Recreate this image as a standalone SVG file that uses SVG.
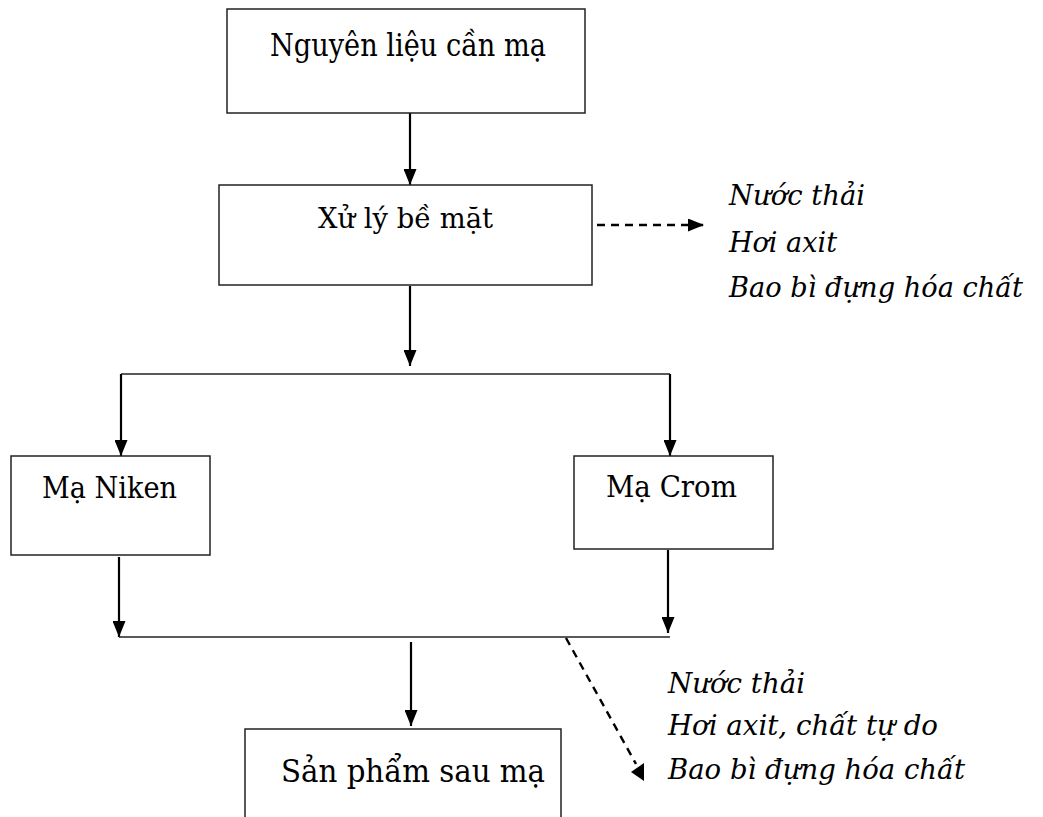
<svg xmlns="http://www.w3.org/2000/svg" width="1043" height="817" viewBox="0 0 1043 817">
<style>
.box{fill:#fff;stroke:#222;stroke-width:1.5}
.ln{stroke:#000;stroke-width:2.2;fill:none}
.hl{stroke:#222;stroke-width:1.5;fill:none}
.dash{stroke:#000;stroke-width:2.4;fill:none;stroke-dasharray:8,6}
.t{font-family:"DejaVu Serif","Liberation Serif",serif;fill:#000}
.i{font-family:"DejaVu Serif","Liberation Serif",serif;font-style:italic;font-size:28px;fill:#000}
</style>
<defs>
<marker id="ah" markerUnits="userSpaceOnUse" markerWidth="16" markerHeight="13" refX="16" refY="6.5" orient="auto">
<path d="M0,0 L16,6.5 L0,13 z" fill="#000"/>
</marker>
</defs>
<rect width="1043" height="817" fill="#fff"/>
<g id="connectors">
<line class="ln" x1="410" y1="113" x2="410" y2="185" marker-end="url(#ah)"/>
<line class="ln" x1="410" y1="286" x2="410" y2="366" marker-end="url(#ah)"/>
<line class="hl" x1="121" y1="374" x2="670" y2="374"/>
<line class="ln" x1="121" y1="374" x2="121" y2="456" marker-end="url(#ah)"/>
<line class="ln" x1="670" y1="374" x2="670" y2="456" marker-end="url(#ah)"/>
<line class="ln" x1="119" y1="557" x2="119" y2="637" marker-end="url(#ah)"/>
<line class="ln" x1="668" y1="550" x2="668" y2="633" marker-end="url(#ah)"/>
<line class="hl" x1="119" y1="637" x2="670" y2="637"/>
<line class="ln" x1="411" y1="642" x2="411" y2="726" marker-end="url(#ah)"/>
<line class="dash" x1="597" y1="225" x2="704" y2="225" marker-end="url(#ah)"/>
<line class="dash" x1="566" y1="638" x2="636" y2="764" stroke-dasharray="9,5"/>
<polygon points="631,772 644,763 644,781" fill="#000"/>
</g>
<g id="n1">
<rect class="box" x="227" y="9" width="358" height="104"/>
<text class="t" x="270" y="56" font-size="31" textLength="276" lengthAdjust="spacingAndGlyphs">Nguyên liệu cần mạ</text>
</g>
<g id="n2">
<rect class="box" x="219" y="185" width="373" height="100"/>
<text class="t" x="318" y="228" font-size="28" textLength="175" lengthAdjust="spacingAndGlyphs">Xử lý bề mặt</text>
</g>
<g id="n3">
<rect class="box" x="11" y="456" width="199" height="99"/>
<text class="t" x="42" y="498" font-size="30" textLength="135" lengthAdjust="spacingAndGlyphs">Mạ Niken</text>
</g>
<g id="n4">
<rect class="box" x="574" y="456" width="199" height="93"/>
<text class="t" x="606" y="497" font-size="30" textLength="131" lengthAdjust="spacingAndGlyphs">Mạ Crom</text>
</g>
<g id="n5">
<path class="box" d="M245,830 L245,729 L561,729 L561,830"/>
<text class="t" x="281" y="782" font-size="31" textLength="264" lengthAdjust="spacingAndGlyphs">Sản phẩm sau mạ</text>
</g>
<g id="waste1">
<text class="i" x="729" y="205" textLength="136" lengthAdjust="spacingAndGlyphs">Nước thải</text>
<text class="i" x="729" y="252" textLength="108" lengthAdjust="spacingAndGlyphs">Hơi axit</text>
<text class="i" x="729" y="297" textLength="294" lengthAdjust="spacingAndGlyphs">Bao bì đựng hóa chất</text>
</g>
<g id="waste2">
<text class="i" x="668" y="693" textLength="137" lengthAdjust="spacingAndGlyphs">Nước thải</text>
<text class="i" x="668" y="735" textLength="270" lengthAdjust="spacingAndGlyphs">Hơi axit, chất tự do</text>
<text class="i" x="668" y="779" textLength="297" lengthAdjust="spacingAndGlyphs">Bao bì đựng hóa chất</text>
</g>
</svg>
